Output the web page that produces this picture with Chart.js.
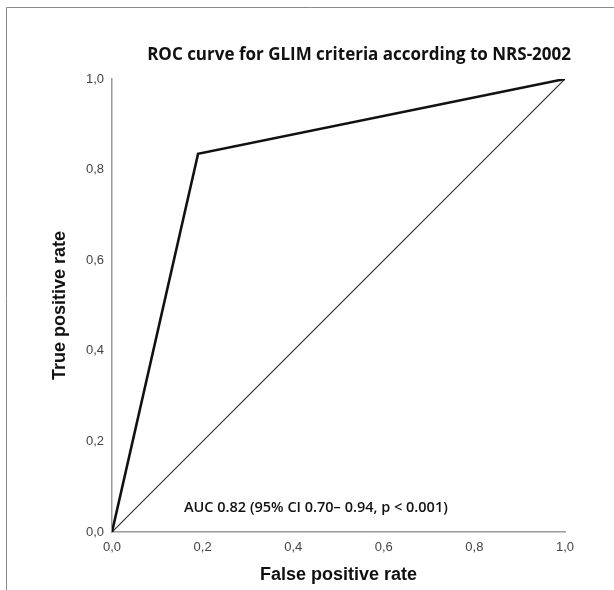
<!DOCTYPE html>
<html>
<head>
<meta charset="utf-8">
<script src="https://cdn.jsdelivr.net/npm/chart.js@4.4.1/dist/chart.umd.min.js"></script>
<style>
  html, body { margin: 0; padding: 0; background: #fff; }
  canvas { display: block; }
</style>
</head>
<body>
<canvas id="rocChart" width="614" height="590"></canvas>
<script>
// ROC curve points (false positive rate / true positive rate)
var fpr = [0, 0.19, 1];
var tpr = [0, 0.835, 1];
// reference diagonal
var refX = [0, 1];
var refY = [0, 1];
var tickStep = 0.2;

var chartTitle = 'ROC curve for GLIM criteria according to NRS-2002';
var aucText = 'AUC 0.82 (95% CI 0.70\u2013 0.94, p < 0.001)';

function toPoints(xs, ys) {
    return xs.map(function(x, i) { return { x: x, y: ys[i] }; });
}

function fmt(v) {
    return v.toFixed(1).replace('.', ',');
}

// title, annotation and the cropped frame
var extras = {
    id: 'extras',
    afterDraw: function(chart) {
        var ctx = chart.ctx;
        ctx.save();
        ctx.strokeStyle = '#8a8a8a';
        ctx.lineWidth = 1;
        ctx.beginPath();
        ctx.moveTo(6.5, 590);
        ctx.lineTo(6.5, 7.5);
        ctx.lineTo(614, 7.5);
        ctx.stroke();

        ctx.fillStyle = '#111';
        ctx.textBaseline = 'middle';
        ctx.textAlign = 'right';
        ctx.font = 'bold 17px "Open Sans"';
        ctx.fillText(chartTitle, 571, 55);

        ctx.textAlign = 'left';
        ctx.font = '600 14.5px "Open Sans"';
        ctx.fillText(aucText, 184, 508);
        ctx.restore();
    }
};

var ctx = document.getElementById('rocChart').getContext('2d');
var rocChart = new Chart(ctx, {
    type: 'scatter',
    data: {
        datasets: [{
            label: 'ROC',
            data: toPoints(fpr, tpr),
            showLine: true,
            borderColor: '#111',
            borderWidth: 2.6,
            pointRadius: 0,
            tension: 0
        }, {
            label: 'Reference',
            data: toPoints(refX, refY),
            showLine: true,
            borderColor: '#333',
            borderWidth: 1.2,
            pointRadius: 0,
            tension: 0
        }]
    },
    plugins: [extras],
    options: {
        responsive: false,
        animation: false,
        layout: { padding: { left: 40, top: 79, right: 49, bottom: 0 } },
        plugins: {
            legend: { display: false },
            tooltip: { enabled: false }
        },
        scales: {
            x: {
                type: 'linear',
                min: 0,
                max: 1,
                grid: { display: false, drawTicks: false },
                border: { display: true, color: '#9a9a9a', width: 1.5 },
                ticks: {
                    stepSize: tickStep,
                    padding: 8,
                    color: '#444',
                    font: { family: '"Liberation Sans", Arial', size: 13 },
                    callback: fmt
                },
                title: {
                    display: true,
                    text: 'False positive rate',
                    color: '#111',
                    font: { family: '"Liberation Sans", Arial', size: 18, weight: 'bold' },
                    padding: { top: 0, bottom: 4 }
                },
                afterFit: function(s) { s.height = 58; }
            },
            y: {
                type: 'linear',
                min: 0,
                max: 1,
                grid: { display: false, drawTicks: false },
                border: { display: true, color: '#9a9a9a', width: 1.5 },
                ticks: {
                    stepSize: tickStep,
                    padding: 8,
                    color: '#444',
                    font: { family: '"Liberation Sans", Arial', size: 13 },
                    callback: fmt
                },
                title: {
                    display: true,
                    text: 'True positive rate',
                    color: '#111',
                    font: { family: '"Liberation Sans", Arial', size: 18, weight: 'bold' },
                    padding: { top: 9, bottom: 0 }
                },
                afterFit: function(s) { s.width = 72; }
            }
        }
    }
});
</script>
</body>
</html>
